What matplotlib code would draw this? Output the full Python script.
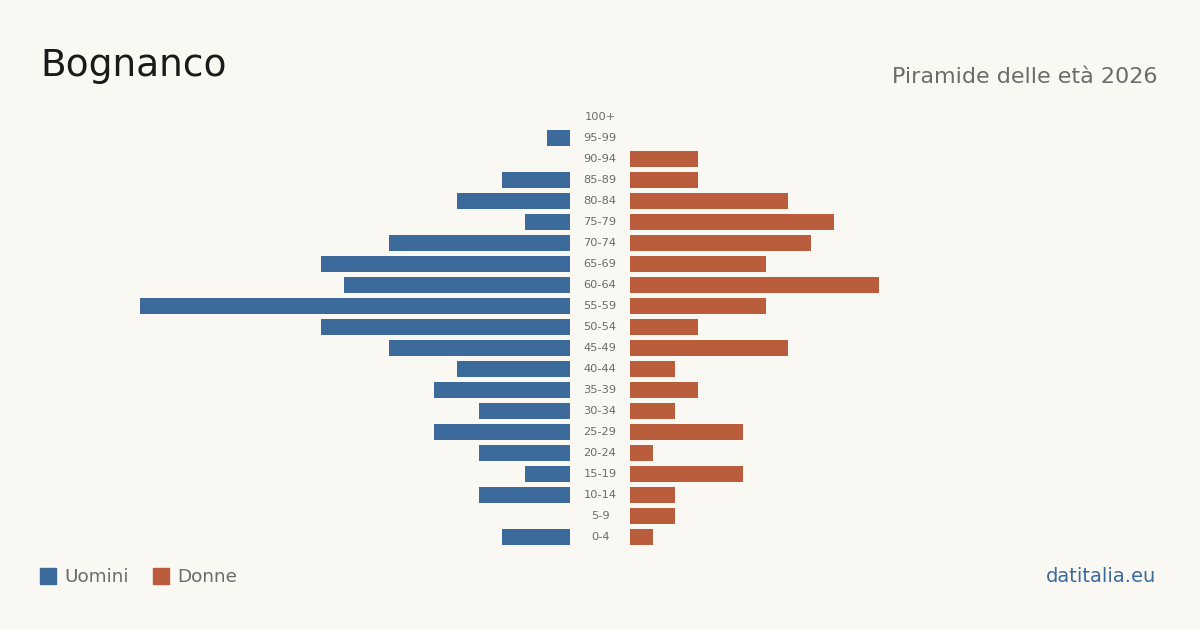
import matplotlib.pyplot as plt
from matplotlib.patches import Rectangle

age_groups = ["0-4", "5-9", "10-14", "15-19", "20-24", "25-29", "30-34", "35-39",
              "40-44", "45-49", "50-54", "55-59", "60-64", "65-69", "70-74",
              "75-79", "80-84", "85-89", "90-94", "95-99", "100+"]
men = [3, 0, 4, 2, 4, 6, 4, 6, 5, 8, 11, 19, 10, 11, 8, 2, 5, 3, 0, 1, 0]
women = [1, 2, 2, 5, 1, 5, 2, 3, 2, 7, 3, 6, 11, 6, 8, 9, 7, 3, 3, 0, 0]

BG = "#f9f8f3"
MEN_COLOR = "#3b6a9b"
WOMEN_COLOR = "#b95d3c"

W, H = 1200, 630
px_per_unit = 22.63
row_px = 21.0
gap = 60 / px_per_unit

fig = plt.figure(figsize=(12, 6.3), dpi=100, facecolor=BG)
ax = fig.add_axes([0, 0, 1, 1])
ax.set_facecolor(BG)
ax.set_xlim(-600 / px_per_unit, 600 / px_per_unit)
ax.set_ylim((537 - H) / row_px, 537 / row_px)
ax.axis("off")

ys = list(range(len(age_groups)))
ax.barh(ys, [-m for m in men], left=-gap / 2, height=0.8, color=MEN_COLOR)
ax.barh(ys, women, left=gap / 2, height=0.8, color=WOMEN_COLOR)
for y, label in zip(ys, age_groups):
    ax.text(0, y, label, ha="center", va="center", fontsize=8.2, color="#6b6b6b")

fig.text(40 / W, 1 - 66 / H, "Bognanco", fontsize=27, color="#1a1a1a",
         ha="left", va="center")
fig.text(1158 / W, 1 - 77 / H, "Piramide delle età 2026", fontsize=16,
         color="#6b6b6b", ha="right", va="center")

# legend
for x0, color, label in [(40, MEN_COLOR, "Uomini"), (153, WOMEN_COLOR, "Donne")]:
    fig.patches.append(Rectangle((x0 / W, 1 - 584 / H), 16 / W, 16 / H,
                                 transform=fig.transFigure, color=color))
    fig.text((x0 + 24) / W, 1 - 577 / H, label, fontsize=13.2, color="#6b6b6b",
             ha="left", va="center")

fig.text(1156 / W, 1 - 577 / H, "datitalia.eu", fontsize=14, color=MEN_COLOR,
         ha="right", va="center")

fig.savefig("out.png", dpi=100, facecolor=BG)
